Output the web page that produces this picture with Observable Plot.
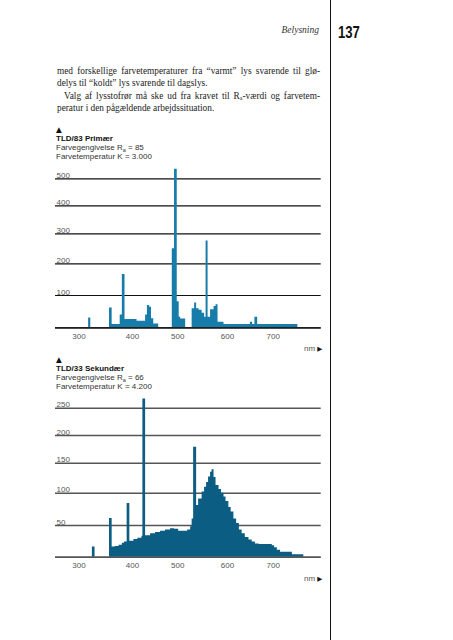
<!DOCTYPE html>
<html><head><meta charset="utf-8">
<script src="https://cdn.jsdelivr.net/npm/d3@7"></script>
<script src="https://cdn.jsdelivr.net/npm/@observablehq/plot@0.6"></script>
<style>
html,body{margin:0;padding:0;background:#fff}
body{width:453px;height:640px;position:relative;overflow:hidden;font-family:"Liberation Sans Narrow","Liberation Sans",Arial,sans-serif;color:#222}
.abs{position:absolute}
.vline{left:329.5px;top:0;width:1px;height:640px;background:#111}
.running{right:134px;top:25px;font-family:"Liberation Serif",serif;font-style:italic;font-size:9.5px;color:#333}
.folio{left:338px;top:24px;font-weight:bold;font-size:16px;transform:scaleX(0.82);transform-origin:left top;color:#111}
.body{left:57px;top:64.5px;width:263px;font-family:"Liberation Serif",serif;font-size:9.3px;line-height:12.6px;color:#222}
.body div{white-space:nowrap}
.body .j{text-align:justify;text-align-last:justify;white-space:normal}
.body sub{font-size:6px;vertical-align:-1px;line-height:0}
.ttl{left:56px;font-size:8px;line-height:9px;color:#333}
.ttl b{color:#111}
.ttl sub{font-size:5.5px;vertical-align:-1.5px;line-height:0}
.tri{font-family:"DejaVu Sans",sans-serif;font-size:7.5px;line-height:9px;color:#111}
.nm{left:304px;font-size:8px;color:#555}
.nm span{font-family:"DejaVu Sans",sans-serif;font-size:6.5px;color:#111}
.chart{left:0}
</style>
</head><body>
<div class="abs vline"></div>
<div class="abs running">Belysning</div>
<div class="abs folio">137</div>
<div class="abs body">
<div class="j">med forskellige farvetemperaturer fra “varmt” lys svarende til glø-</div>
<div>delys til “koldt” lys svarende til dagslys.</div>
<div class="j" style="padding-left:7px">Valg af lysstofrør må ske ud fra kravet til R<sub>a</sub>-værdi og farvetem-</div>
<div>peratur i den pågældende arbejdssituation.</div>
</div>
<div class="abs ttl" style="top:125px"><div class="tri">▲</div><b>TLD/83 Primær</b><br>Farvegengivelse R<sub>a</sub> = 85<br>Farvetemperatur K = 3.000</div>
<div class="abs ttl" style="top:355px"><div class="tri">▲</div><b>TLD/33 Sekundær</b><br>Farvegengivelse R<sub>a</sub> = 66<br>Farvetemperatur K = 4.200</div>
<div class="abs nm" style="top:344px">nm <span>▶</span></div>
<div class="abs nm" style="top:574px">nm <span>▶</span></div>
<div class="abs chart" id="c1" style="top:165px"></div>
<div class="abs chart" id="c2" style="top:395px"></div>
<script>
// shared wavelength axis (nm)
const xTicks = [300, 400, 500, 600, 700];

// TLD/83 Primær: step starts (nm) and relative intensity
const wl83 = [318, 322, 357, 362, 377, 381, 386, 410, 429, 433, 438, 442, 447, 458, 488, 493, 499, 503, 506, 516, 529, 534, 538, 543, 549, 554, 557, 561, 566, 573, 577, 581, 593, 650, 655, 660, 666, 754];
const int83 = [30, 0, 61, 10, 40, 166, 26, 20, 40, 69, 64, 28, 12, 0, 250, 535, 81, 33, 27, 0, 59, 77, 59, 54, 45, 33, 276, 33, 56, 66, 71, 17, 10, 17, 10, 33, 10, 0];
const yTicks83 = [0, 100, 200, 300, 400, 500];

// TLD/33 Sekundær
const wl33 = [325, 330, 357, 362, 368, 375, 381, 385, 390, 395, 403, 412, 421, 423, 429, 440, 451, 462, 473, 484, 493, 502, 512, 520, 526, 529, 532, 538, 542, 549, 554, 558, 562, 566, 569, 573, 577, 583, 588, 593, 597, 603, 608, 614, 620, 626, 632, 639, 647, 654, 661, 669, 698, 703, 709, 716, 742, 767];
const int33 = [16, 0, 61, 16, 17, 19, 22, 24, 84, 25, 28, 30, 33, 267, 34, 37, 39, 41, 43, 45, 44, 41, 41, 43, 48, 60, 179, 81, 91, 102, 110, 118, 127, 135, 139, 126, 113, 106, 100, 94, 87, 78, 71, 60, 53, 43, 37, 31, 27, 24, 21, 20, 18, 15, 11, 8, 4, 0];
const yTicks33 = [0, 50, 100, 150, 200, 250];

function spectrum({wl, val, yTicks, yRange, fill, grid, gridWidth}) {
  const data = wl.map((w, i) => ({w, v: val[i]}));
  const H = 180;
  return Plot.plot({
    width: 340, height: H,
    marginLeft: 55, marginRight: 19.3, marginTop: 0, marginBottom: H - yRange[0],
    style: {fontFamily: '"Liberation Sans Narrow","Liberation Sans",Arial,sans-serif', fontSize: "8px", background: "transparent"},
    x: {type: "linear", domain: xTicks, range: [78.5, 132, 177.2, 227, 272.7], label: null},
    y: {type: "linear", domain: yTicks, range: yRange, axis: null, label: null},
    marks: [
      Plot.gridY(yTicks, {stroke: grid, strokeOpacity: 1, strokeWidth: gridWidth}),
      Plot.areaY(data, {x: "w", y: "v", curve: "step-after", fill}),
      Plot.ruleY([0], {stroke: grid, strokeWidth: gridWidth}),
      Plot.text(yTicks.filter(d => d > 0), {y: d => d, text: d => String(d), frameAnchor: "left", textAnchor: "start", dx: 1, dy: -3.5, fill: "#555"}),
      Plot.axisX(xTicks, {tickSize: 0, tickPadding: 5.5, color: "#555", label: null})
    ]
  });
}

document.getElementById("c1").append(spectrum({wl: wl83, val: int83, yTicks: yTicks83,
  yRange: [162.3, 130, 98.3, 68.3, 40.3, 13.3], fill: "#187cab", grid: "#111", gridWidth: 1.2}));
document.getElementById("c2").append(spectrum({wl: wl33, val: int33, yTicks: yTicks33,
  yRange: [161.7, 130, 97.7, 67.7, 40, 12.7], fill: "#0b5d84", grid: "#555", gridWidth: 1.5}));
</script>
</body></html>
